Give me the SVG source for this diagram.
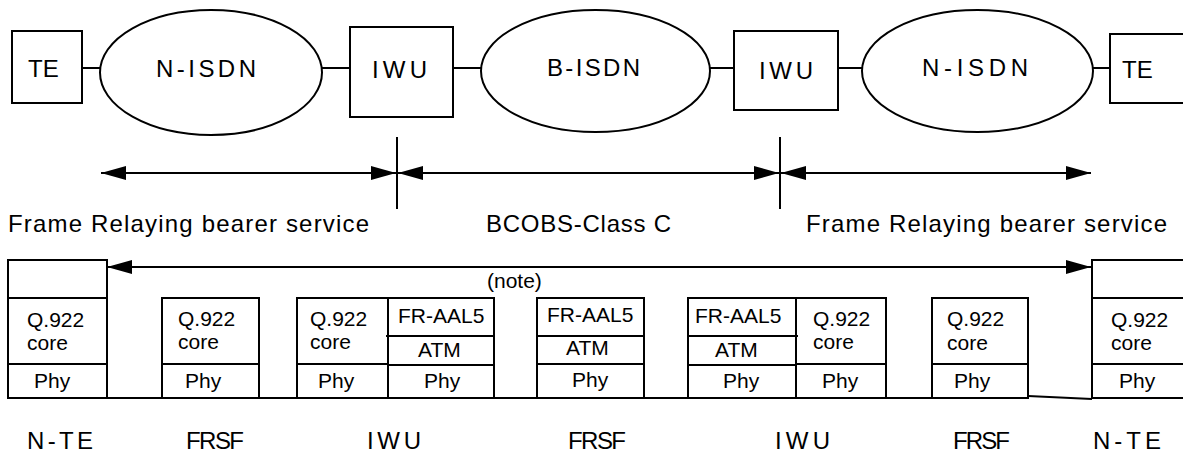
<svg xmlns="http://www.w3.org/2000/svg" width="1183" height="454" viewBox="0 0 1183 454">
  <style>
    .box { fill: #fff; stroke: #000; stroke-width: 2; }
    .ln { fill: none; stroke: #000; stroke-width: 2; }
    .big { font-family: "Liberation Sans", Arial, sans-serif; font-size: 24px; fill: #000; }
    .sm { font-family: "Liberation Sans", Arial, sans-serif; font-size: 21px; fill: #000; }
    .arr { fill: none; stroke: #000; stroke-width: 2; marker-end: url(#head); marker-start: url(#head); }
  </style>
  <defs>
    <marker id="head" viewBox="0 0 25 14" refX="25" refY="7" markerWidth="25" markerHeight="14" markerUnits="userSpaceOnUse" orient="auto-start-reverse">
      <path d="M0,0 L25,7 L0,14 z" fill="#000"/>
    </marker>
  </defs>
  <rect width="1183" height="454" fill="#fff"/>

  <!-- links and spans -->
  <g id="connectors">
    <line class="ln" x1="82" y1="68" x2="100" y2="68"/>
    <line class="ln" x1="322" y1="68" x2="350" y2="68"/>
    <line class="ln" x1="453" y1="68" x2="481" y2="68"/>
    <line class="ln" x1="710" y1="68" x2="734" y2="68"/>
    <line class="ln" x1="838" y1="68" x2="862" y2="68"/>
    <line class="ln" x1="1093" y1="68" x2="1110" y2="68"/>
    <!-- span ticks -->
    <line class="ln" x1="397" y1="137" x2="397" y2="209"/>
    <line class="ln" x1="780" y1="137" x2="780" y2="209"/>
    <!-- span arrows -->
    <line class="arr" x1="101" y1="173" x2="396" y2="173"/>
    <line class="arr" x1="398" y1="173" x2="779" y2="173"/>
    <line class="arr" x1="781" y1="173" x2="1091" y2="173"/>
    <!-- end-to-end arrow over the stacks -->
    <line class="arr" x1="107" y1="267" x2="1091" y2="267"/>
    <!-- physical medium -->
    <polyline class="ln" points="107,398 1028,398"/>
    <line class="ln" x1="1028" y1="396" x2="1092" y2="399"/>
  </g>

  <!-- top row -->
  <g id="te-left">
    <rect class="box" x="12" y="31" width="70" height="72"/>
    <text class="big" x="28" y="77">TE</text>
  </g>
  <g id="nisdn-left">
    <ellipse class="box" cx="211" cy="72.5" rx="111" ry="62.5"/>
    <text class="big" x="156" y="77" textLength="100" lengthAdjust="spacing">N-ISDN</text>
  </g>
  <g id="iwu-top-1">
    <rect class="box" x="350" y="27" width="103" height="90"/>
    <text class="big" x="372" y="78" textLength="55" lengthAdjust="spacing">IWU</text>
  </g>
  <g id="bisdn">
    <ellipse class="box" cx="595.5" cy="71" rx="114.5" ry="61"/>
    <text class="big" x="547" y="76" textLength="93" lengthAdjust="spacing">B-ISDN</text>
  </g>
  <g id="iwu-top-2">
    <rect class="box" x="734" y="31" width="104" height="79"/>
    <text class="big" x="759" y="79" textLength="54" lengthAdjust="spacing">IWU</text>
  </g>
  <g id="nisdn-right">
    <ellipse class="box" cx="977.5" cy="71" rx="115.5" ry="61"/>
    <text class="big" x="922" y="76" textLength="106" lengthAdjust="spacing">N-ISDN</text>
  </g>
  <g id="te-right">
    <rect class="box" x="1110" y="34" width="80" height="69"/>
    <text class="big" x="1122" y="78">TE</text>
  </g>

  <!-- service spans -->
  <g id="spans">
    <text class="big" x="8" y="232" textLength="361" lengthAdjust="spacing">Frame Relaying bearer service</text>
    <text class="big" x="486" y="232" textLength="185" lengthAdjust="spacing">BCOBS-Class C</text>
    <text class="big" x="806" y="232" textLength="361" lengthAdjust="spacing">Frame Relaying bearer service</text>
    <text class="sm" x="487" y="288">(note)</text>
  </g>

  <!-- protocol stacks -->
  <g id="nte-left">
    <rect class="box" x="8" y="260" width="99" height="138"/>
    <line class="ln" x1="8" y1="298" x2="107" y2="298"/>
    <line class="ln" x1="8" y1="364" x2="107" y2="364"/>
    <text class="sm" x="27" y="327">Q.922</text>
    <text class="sm" x="27" y="350">core</text>
    <text class="sm" x="34" y="388">Phy</text>
    <text class="big" x="27" y="449" textLength="66" lengthAdjust="spacing">N-TE</text>
  </g>
  <g id="frsf-1">
    <rect class="box" x="162" y="298" width="97" height="100"/>
    <line class="ln" x1="162" y1="364" x2="259" y2="364"/>
    <text class="sm" x="178" y="326">Q.922</text>
    <text class="sm" x="178" y="349">core</text>
    <text class="sm" x="185" y="388">Phy</text>
    <text class="big" x="186" y="449" textLength="58" lengthAdjust="spacing">FRSF</text>
  </g>
  <g id="iwu-1">
    <rect class="box" x="297" y="298" width="197" height="100"/>
    <line class="ln" x1="388" y1="298" x2="388" y2="398"/>
    <line class="ln" x1="297" y1="364" x2="388" y2="364"/>
    <line class="ln" x1="386" y1="336" x2="494" y2="336"/>
    <line class="ln" x1="388" y1="365" x2="494" y2="365"/>
    <text class="sm" x="310" y="326">Q.922</text>
    <text class="sm" x="310" y="349">core</text>
    <text class="sm" x="318" y="388">Phy</text>
    <text class="sm" x="398" y="323">FR-AAL5</text>
    <text class="sm" x="418" y="357">ATM</text>
    <text class="sm" x="424" y="388">Phy</text>
    <text class="big" x="367" y="449" textLength="54" lengthAdjust="spacing">IWU</text>
  </g>
  <g id="frsf-2">
    <rect class="box" x="537" y="298" width="107" height="100"/>
    <line class="ln" x1="537" y1="336" x2="645" y2="336"/>
    <line class="ln" x1="537" y1="364" x2="644" y2="364"/>
    <text class="sm" x="547" y="322">FR-AAL5</text>
    <text class="sm" x="566" y="355">ATM</text>
    <text class="sm" x="572" y="387">Phy</text>
    <text class="big" x="568" y="449" textLength="58" lengthAdjust="spacing">FRSF</text>
  </g>
  <g id="iwu-2">
    <rect class="box" x="688" y="298" width="198" height="100"/>
    <line class="ln" x1="796" y1="298" x2="796" y2="398"/>
    <line class="ln" x1="688" y1="336" x2="798" y2="336"/>
    <line class="ln" x1="688" y1="365" x2="796" y2="365"/>
    <line class="ln" x1="796" y1="364" x2="886" y2="364"/>
    <text class="sm" x="695" y="323">FR-AAL5</text>
    <text class="sm" x="715" y="357">ATM</text>
    <text class="sm" x="723" y="388">Phy</text>
    <text class="sm" x="813" y="326">Q.922</text>
    <text class="sm" x="813" y="349">core</text>
    <text class="sm" x="822" y="388">Phy</text>
    <text class="big" x="775" y="449" textLength="55" lengthAdjust="spacing">IWU</text>
  </g>
  <g id="frsf-3">
    <rect class="box" x="932" y="298" width="96" height="100"/>
    <line class="ln" x1="932" y1="364" x2="1028" y2="364"/>
    <text class="sm" x="947" y="326">Q.922</text>
    <text class="sm" x="947" y="350">core</text>
    <text class="sm" x="954" y="388">Phy</text>
    <text class="big" x="953" y="449" textLength="57" lengthAdjust="spacing">FRSF</text>
  </g>
  <g id="nte-right">
    <rect class="box" x="1092" y="260" width="98" height="138"/>
    <line class="ln" x1="1092" y1="298" x2="1190" y2="298"/>
    <line class="ln" x1="1092" y1="364" x2="1190" y2="364"/>
    <text class="sm" x="1111" y="327">Q.922</text>
    <text class="sm" x="1111" y="350">core</text>
    <text class="sm" x="1119" y="388">Phy</text>
    <text class="big" x="1093" y="449" textLength="68" lengthAdjust="spacing">N-TE</text>
  </g>
</svg>
